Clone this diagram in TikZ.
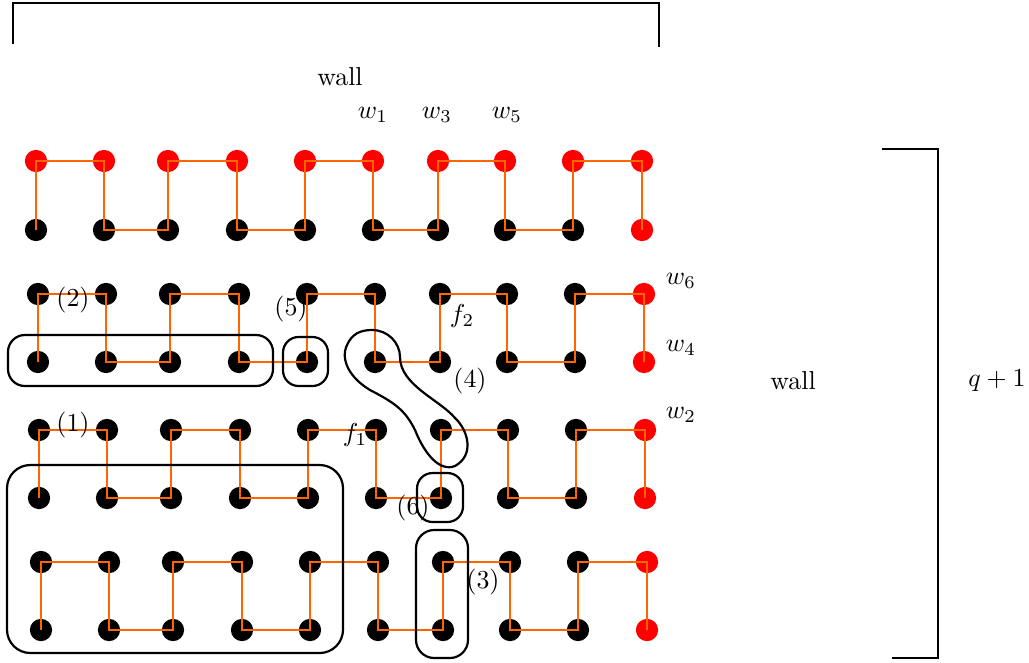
\documentclass[tikz,border=0pt]{standalone}
\definecolor{pathorange}{RGB}{255,102,0}
\definecolor{dotred}{RGB}{255,0,0}
\begin{document}
\begin{tikzpicture}[x=0.386pt,y=-0.386pt,
  dot/.style={circle,inner sep=0pt,minimum size=8.6pt},
  route/.style={draw=pathorange,line width=1pt},
  group/.style={draw=black,line width=0.85pt},
  bracket/.style={draw=black,line width=0.8pt},
  lbl/.style={inner sep=1pt}]
\useasboundingbox (0,0) rectangle (1029,662);

% grid of vertices: first row and last column are red
\foreach \r/\y/\dx in {1/161/0,2/230/0,3/294/2,4/362/2,5/430/3,6/498/3,7/562/5,8/630/5}{
  \foreach \c/\x in {1/36,2/104,3/168,4/237,5/305,6/373,7/438,8/505,9/573,10/642}{
    \ifnum\r=1 \def\col{dotred}\else\ifnum\c=10 \def\col{dotred}\else\def\col{black}\fi\fi
    \node[dot,fill=\col] (n-\r-\c) at (\x+\dx,\y) {};
  }
}

% snake paths through each pair of rows
\foreach \t/\b in {1/2,3/4,5/6,7/8}{
  \draw[route] (n-\b-1.center) -- (n-\t-1.center) -- (n-\t-2.center) -- (n-\b-2.center)
    -- (n-\b-3.center) -- (n-\t-3.center) -- (n-\t-4.center) -- (n-\b-4.center)
    -- (n-\b-5.center) -- (n-\t-5.center) -- (n-\t-6.center) -- (n-\b-6.center)
    -- (n-\b-7.center) -- (n-\t-7.center) -- (n-\t-8.center) -- (n-\b-8.center)
    -- (n-\b-9.center) -- (n-\t-9.center) -- (n-\t-10.center) -- (n-\b-10.center);
}

% groups
\draw[group,rounded corners=6.5pt] (8,335) rectangle (273,386);
\draw[group,rounded corners=6pt] (283,337) rectangle (328,386);
\draw[group,rounded corners=9pt] (7,465) rectangle (343,653);
\draw[group,rounded corners=6pt] (417,473) rectangle (463,522);
\draw[group,rounded corners=7pt] (416,530) rectangle (468,658);
\draw[group] (372,330) .. controls (388,330) and (400,343) .. (400,357)
  .. controls (400,385) and (440,400) .. (455,418)
  .. controls (468,430) and (475,455) .. (455,466)
  .. controls (440,472) and (425,455) .. (415,430)
  .. controls (405,410) and (395,403) .. (370,390)
  .. controls (350,378) and (340,360) .. (347,345)
  .. controls (352,334) and (360,330) .. cycle;

% walls
\draw[bracket] (13,44) -- (13,3) -- (659,3) -- (659,47);
\draw[bracket] (882,149) -- (938,149) -- (938,658) -- (892,658);

% labels
\node[lbl] (walltop) at (340,77) {wall};
\node[lbl] (wallright) at (793,381) {wall};
\node[lbl] (qlabel) at (997,381) {$q+1$};
\node[lbl] (w1) at (373,115) {$w_1$};
\node[lbl] (w3) at (437,115) {$w_3$};
\node[lbl] (w5) at (507,115) {$w_5$};
\node[lbl] (w6) at (681,281) {$w_6$};
\node[lbl] (w4) at (681,348) {$w_4$};
\node[lbl] (w2) at (681,415) {$w_2$};
\node[lbl] (l1) at (73,425) {(1)};
\node[lbl] (l2) at (73,300) {(2)};
\node[lbl] (l3) at (483,582) {(3)};
\node[lbl] (l4) at (470,381) {(4)};
\node[lbl] (l5) at (291,309) {(5)};
\node[lbl] (l6) at (413,508) {(6)};
\node[lbl] (f1) at (355,435) {$f_1$};
\node[lbl] (f2) at (462,316) {$f_2$};
\end{tikzpicture}
\end{document}
